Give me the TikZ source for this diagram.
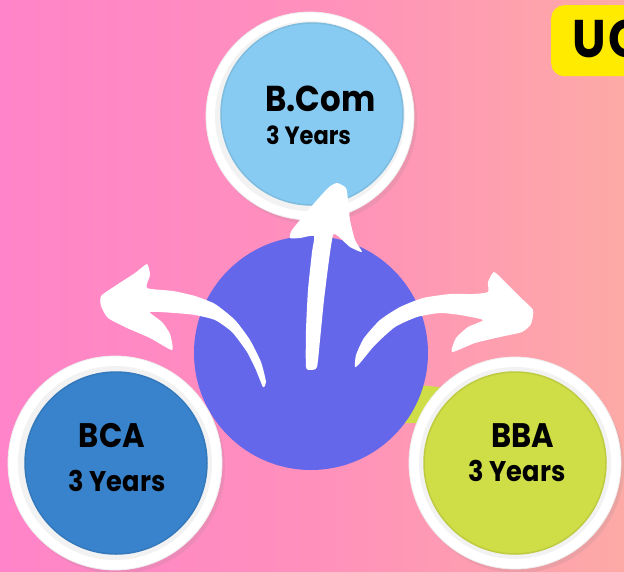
\documentclass[tikz,border=0pt]{standalone}
\usepackage{fontspec}
\newfontfamily\pop{Poppins}[FakeStretch=0.9]
\usetikzlibrary{shadows}
\definecolor{bgL}{HTML}{FF84C9}
\definecolor{bgM}{HTML}{FF90BC}
\definecolor{bgR}{HTML}{FDAAA6}
\definecolor{purp}{HTML}{6567EA}
\definecolor{lblue}{HTML}{88CBF2}
\definecolor{dblue}{HTML}{3883CB}
\definecolor{lime}{HTML}{CFDD47}
\definecolor{ugy}{HTML}{FFEB00}
\begin{document}
\begin{tikzpicture}[x=1pt,y=-1pt,
  ring/.style={circle,fill=white,inner sep=0pt,minimum size=#1,draw=black!7,line width=0.8pt,
    drop shadow={opacity=0.14,shadow xshift=3pt,shadow yshift=-4pt}},
  band/.style={circle,fill=black!5,inner sep=0pt,minimum size=#1},
  disk/.style={circle,inner sep=0pt,minimum size=#1,line width=1.5pt},
  title/.style={font=\pop\bfseries\fontsize{#1}{#1}\selectfont,inner sep=0pt,text=black},
  yrs/.style={font=\pop\bfseries\fontsize{#1}{#1}\selectfont,inner sep=0pt,text=black},
  brush/.style={fill=white}]
\clip (0,0) rectangle (624,571);
\shade[left color=bgL,right color=bgR,middle color=bgM] (0,0) rectangle (624,571);
% coloured patches behind the rings
\fill[lime] (420,385) -- (446,388) -- (432,423) -- (404,423) -- cycle;
\fill[lblue] (308,226) ellipse (9 and 7);
% central circle
\node[circle,fill=purp,minimum size=234,inner sep=0pt] (hub) at (311,353) {};
% B.Com
\node[ring=208] (bcomring) at (310,116) {};
\node[band=190] (bcomband) at (bcomring.center) {};
\node[disk=182,fill=lblue,draw=lblue!92!black] (bcom) at (312,114) {};
\node[title=36,anchor=base west] (bcomt) at (265,111) {B.Com};
\node[yrs=25,anchor=base west] (bcomy) at (266,144) {3 Years};
% BCA
\node[ring=214] (bcaring) at (115,463) {};
\node[band=194] (bcaband) at (bcaring.center) {};
\node[disk=182,fill=dblue,draw=dblue!92!black] (bca) at (116,463) {};
\node[title=34,anchor=base] (bcat) at (112,447) {BCA};
\node[yrs=28.5,anchor=base] (bcay) at (117,491) {3 Years};
% BBA
\node[ring=212] (bbaring) at (515,463) {};
\node[band=192] (bbaband) at (bbaring.center) {};
\node[disk=182,fill=lime,draw=lime!92!black] (bba) at (515,463) {};
\node[title=34,anchor=base] (bbat) at (523,447) {BBA};
\node[yrs=28.5,anchor=base] (bbay) at (517,481) {3 Years};
% white brush arrows
\fill[brush] plot[smooth cycle,tension=0.35] coordinates {
 (306,367) (306,330) (308,290) (312,252) (314,236) (300,238) (290,238) (292,230)
 (310,208) (328,188) (337,183) (346,188) (348,200) (350,220) (355,240) (362,252)
 (350,247) (338,236) (333,235) (329,260) (324,300) (320,340) (317,367) (311,370)};
\fill[brush] plot[smooth cycle,tension=0.35] coordinates {
 (263,387) (256,370) (247,352) (232,332) (215,320) (195,315) (175,313) (150,312)
 (162,322) (170,334) (172,350) (150,338) (127,328) (108,318) (101,306) (101,296)
 (115,286) (135,273) (147,264) (150,275) (147,288) (173,291) (195,296) (215,304)
 (235,320) (250,340) (261,362) (266,382)};
\fill[brush] plot[smooth cycle,tension=0.35] coordinates {
 (355,367) (356,355) (364,338) (380,320) (400,307) (423,298) (450,294) (473,294)
 (488,292) (488,282) (494,272) (505,282) (520,297) (533,310) (531,324) (522,332)
 (500,337) (475,343) (452,352) (456,338) (468,327) (483,320) (460,315) (440,313)
 (417,317) (395,327) (375,345) (360,363)};
% UG label
\node[fill=ugy,rounded corners=13pt,minimum width=110,minimum height=71,inner sep=0pt,anchor=north west] (ugbox) at (551,5) {};
\node[title=53,anchor=base west] (ug) at (572,57) {U\kern3pt G};
\end{tikzpicture}
\end{document}
